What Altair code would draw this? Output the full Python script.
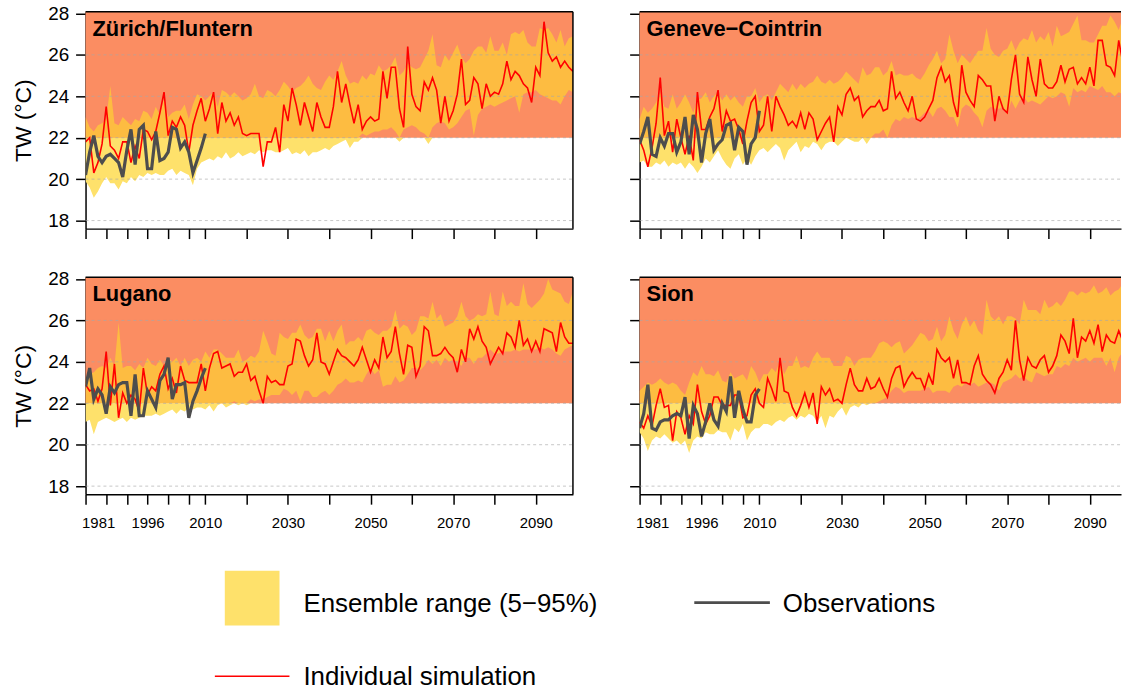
import altair as alt
import pandas as pd

# ---------------- data ----------------
YEARS = list(range(1981, 2100))
OBS_YEARS = list(range(1981, 2011))
X_TICKS = [1981, 1986, 1991, 1996, 2001, 2006, 2010, 2020, 2030, 2040,
           2050, 2060, 2070, 2080, 2090]
X_LABELS = [1981, 1996, 2010, 2030, 2050, 2070, 2090]
Y_TICKS = [18, 20, 22, 24, 26, 28]
GRID_VALUES = [18, 20, 22, 24, 26]
THRESHOLD = 22

STATIONS = ["Zürich/Fluntern", "Geneve\u2212Cointrin", "Lugano", "Sion"]

ZUR_SIM = [21.8, 22.0, 20.3, 20.8, 21.7, 23.5, 21.6, 21.4, 21.0, 21.8,
           21.8, 20.8, 21.6, 21.0, 22.4, 22.3, 21.9, 22.3, 23.2, 24.2,
           22.1, 22.8, 22.5, 23.0, 22.6, 21.3, 22.6, 23.3, 23.9, 22.8,
           23.4, 24.2, 22.2, 23.7, 22.8, 23.2, 22.6, 23.0, 22.2, 22.1,
           22.2, 22.2, 22.2, 20.6, 21.8, 21.8, 22.5, 21.3, 23.6, 22.8,
           24.4, 23.6, 22.6, 23.7, 23.0, 22.3, 23.7, 23.0, 22.5, 22.5,
           23.5, 25.2, 23.7, 24.6, 23.6, 22.7, 23.6, 22.4, 22.8, 23.0,
           22.8, 22.9, 25.2, 23.9, 25.4, 25.4, 23.4, 22.5, 26.4, 24.1,
           23.5, 23.3, 24.7, 24.3, 24.9, 24.3, 22.7, 24.0, 22.8, 23.3,
           24.1, 25.8, 23.6, 23.8, 24.9, 24.6, 23.4, 24.6, 24.0, 24.2,
           24.1, 24.6, 25.7, 24.8, 25.2, 25.0, 24.6, 24.4, 23.7, 25.4,
           25.0, 27.6, 26.1, 25.7, 25.9, 25.4, 25.7, 25.4, 25.2]
ZUR_LO = [19.9, 19.6, 19.1, 19.4, 19.8, 20.1, 19.8, 19.8, 19.5, 19.9,
          19.8, 20.1, 19.9, 20.2, 20.1, 20.3, 20.2, 20.3, 20.2, 20.2,
          20.4, 20.5, 20.2, 20.4, 20.3, 20.2, 19.7, 20.5, 20.8, 20.9,
          21.0, 20.9, 21.1, 21.0, 21.3, 21.0, 21.1, 21.3, 21.1, 21.2,
          21.3, 21.2, 21.4, 21.3, 21.4, 21.4, 21.3, 21.3, 21.4, 21.5,
          21.2, 21.3, 21.2, 21.4, 21.1, 21.3, 21.3, 21.4, 21.5, 21.4,
          21.6, 21.7, 21.8, 21.9, 21.5, 21.8, 21.8, 22.2, 22.1, 22.2,
          22.3, 22.3, 22.4, 22.4, 22.5, 22.3, 21.8, 22.4, 22.5, 22.6,
          22.5, 22.3, 22.2, 21.7, 22.5, 22.7, 22.8, 22.7, 22.4, 22.5,
          22.7, 23.0, 23.3, 23.4, 22.1, 23.1, 23.4, 23.5, 23.6, 23.5,
          23.6, 23.7, 23.8, 23.9, 24.0, 23.2, 24.1, 24.2, 24.2, 24.3,
          24.1, 24.0, 23.9, 23.8, 23.8, 23.6, 24.0, 24.3, 24.2]
ZUR_HI = [23.0, 22.5, 22.3, 22.6, 22.7, 22.9, 24.5, 22.7, 22.6, 23.0,
          22.8, 22.6, 22.9, 22.8, 23.3, 23.2, 22.9, 23.5, 23.1, 23.9,
          23.0, 23.2, 23.3, 23.3, 23.6, 22.9, 23.6, 24.1, 24.0, 23.8,
          24.0, 24.2, 23.5, 24.3, 24.2, 24.0, 24.2, 24.0, 23.8, 23.9,
          24.1, 24.6, 24.0, 23.9, 24.3, 24.2, 24.0, 24.3, 24.7, 24.5,
          24.2, 24.4, 24.5, 24.7, 25.0, 24.6, 24.4, 24.3, 24.7, 25.0,
          24.8, 25.2, 25.7, 25.0, 24.6, 24.7, 24.6, 25.0, 24.8, 25.1,
          25.0, 25.5, 25.2, 25.3, 25.5, 25.9, 25.0, 25.2, 25.6, 25.4,
          25.3, 25.4, 25.8, 26.2, 27.0, 25.5, 25.4, 26.0, 25.7, 26.1,
          26.5, 25.9, 25.6, 25.8, 26.2, 26.4, 26.4, 26.1, 26.9, 26.2,
          26.2, 26.6, 26.0, 27.0, 27.1, 27.0, 27.2, 26.6, 26.4, 26.4,
          27.3, 27.2, 27.3, 27.0, 26.6, 27.2, 26.4, 26.8, 26.9]
ZUR_OBS = [20.2, 21.3, 22.1, 21.1, 20.8, 21.1, 21.2, 21.0, 20.8, 20.1,
           21.4, 22.4, 20.7, 22.4, 22.6, 20.5, 20.5, 22.3, 20.9, 21.0,
           21.3, 22.5, 22.4, 21.5, 21.8, 21.3, 20.3, 20.9, 21.5, 22.2]

GEN_SIM = [21.9, 21.4, 20.6, 21.5, 22.7, 24.9, 22.1, 22.8, 21.3, 22.9,
           22.0, 21.2, 22.1, 20.9, 24.2, 22.4, 22.4, 23.0, 23.4, 24.3,
           22.3, 23.3, 22.8, 22.9, 22.4, 21.7, 22.8, 23.7, 24.0, 22.3,
           22.6, 24.0, 22.3, 24.0, 23.5, 23.1, 22.6, 22.8, 22.5, 23.2,
           22.4, 23.2, 22.9, 21.9, 22.3, 22.7, 23.0, 21.8, 23.5, 23.1,
           24.1, 24.4, 23.8, 24.0, 23.0, 23.3, 23.5, 23.5, 23.8, 23.3,
           23.4, 25.2, 23.9, 24.2, 23.7, 23.3, 24.0, 22.9, 22.8, 23.0,
           23.4, 23.8, 24.9, 25.4, 24.7, 25.0, 23.7, 23.0, 25.5, 24.2,
           23.8, 23.5, 25.0, 24.8, 24.5, 24.5, 22.8, 24.0, 23.4, 23.2,
           24.8, 26.0, 24.1, 23.7, 25.9, 24.8, 24.0, 25.8, 24.6, 24.4,
           24.4, 24.7, 25.5, 24.7, 25.3, 25.4, 24.6, 24.9, 24.6, 25.4,
           24.5, 26.7, 26.7, 25.5, 25.4, 25.0, 26.7, 25.6, 25.3]
GEN_LO = [20.8, 20.9, 20.6, 20.6, 20.8, 20.7, 20.9, 20.6, 20.8, 20.7,
          20.8, 20.5, 20.8, 20.6, 20.3, 20.6, 21.0, 20.8, 21.1, 21.4,
          21.0, 20.7, 20.5, 21.0, 21.2, 20.7, 21.0, 20.7, 21.1, 21.4,
          21.5, 21.3, 21.5, 21.7, 21.5, 20.9, 21.4, 21.6, 21.8, 21.3,
          21.6, 21.5, 21.8, 21.7, 21.4, 21.7, 21.8, 21.8, 21.6, 21.8,
          22.0, 21.9, 21.8, 21.8, 22.0, 21.7, 22.0, 22.2, 22.2,
          22.4, 22.0, 22.6, 22.9, 22.8, 23.0, 22.9, 23.0, 22.9, 23.0,
          23.2, 23.3, 23.0, 23.4, 23.5, 23.3, 23.0, 23.0, 22.5, 23.4,
          23.6, 23.5, 23.2, 23.0, 22.5, 23.3, 23.5, 23.4, 23.4, 23.5,
          23.1, 23.8, 23.4, 23.8, 24.0, 23.7, 23.8, 23.7, 23.6, 23.8,
          24.0, 23.9, 24.0, 24.2, 24.1, 23.5, 24.4, 24.2, 24.3, 24.2,
          24.5, 24.4, 24.3, 24.5, 24.2, 24.2, 24.0, 24.2, 24.1, 24.1]
GEN_HI = [22.9, 23.5, 23.2, 23.4, 23.7, 24.2, 23.5, 23.4, 24.1, 23.4,
          23.7, 24.1, 23.7, 23.2, 23.8, 23.9, 24.2, 23.7, 24.0, 24.2,
          23.8, 24.1, 23.8, 24.0, 23.7, 23.5, 24.0, 24.0, 24.4, 23.7,
          24.0, 24.1, 23.8, 24.2, 24.6, 24.4, 24.2, 24.6, 24.3, 24.6,
          24.4, 24.6, 24.7, 25.0, 24.7, 24.6, 24.8, 24.6, 24.7, 24.9,
          25.2, 25.0, 24.8, 24.6, 25.4, 25.0, 25.1, 25.4, 25.4,
          25.0, 25.2, 25.7, 25.0, 25.1, 25.0, 25.0, 25.1, 24.9, 24.8,
          25.1, 25.5, 25.8, 26.2, 25.6, 25.8, 27.0, 26.2, 25.6, 26.0,
          25.8, 25.6, 25.9, 26.2, 26.2, 27.3, 26.3, 26.0, 25.9, 26.2,
          26.3, 26.7, 26.2, 26.6, 26.8, 26.7, 27.2, 26.6, 26.9, 26.7,
          27.1, 26.4, 27.4, 26.9, 27.0, 27.1, 27.5, 27.9, 26.7, 26.7,
          26.6, 26.6, 27.0, 27.4, 27.4, 27.9, 27.6, 27.2, 27.8, 27.7]
GEN_OBS = [21.7, 22.3, 23.0, 21.2, 21.1, 22.0, 21.6, 22.2, 22.2, 21.3,
           21.8, 23.0, 21.2, 23.1, 22.4, 20.8, 22.2, 22.9, 21.4, 21.7,
           21.9, 22.6, 22.7, 21.4, 22.5, 22.3, 20.7, 21.7, 22.0, 23.3]

LUG_SIM = [22.9, 22.6, 22.7, 22.1, 22.7, 24.5, 21.9, 23.9, 21.3, 22.5,
           22.0, 22.4, 22.2, 21.6, 23.7, 22.4, 22.8, 22.6, 23.4, 23.8,
           22.7, 23.2, 22.5, 23.8, 23.1, 23.0, 23.0, 23.0, 23.9, 22.6,
           23.7, 24.4, 24.5, 23.7, 23.8, 23.9, 23.3, 23.5, 23.5, 23.9,
           23.1, 23.3, 22.6, 22.0, 23.3, 23.0, 23.1,
           22.9, 22.9, 23.8, 23.9, 25.1, 25.0, 24.3, 23.8, 24.1, 25.4,
           24.0, 23.9, 23.4, 24.0, 24.6, 24.3, 24.2, 24.0, 23.8, 24.1,
           24.7, 24.1, 23.5, 24.1, 23.7, 25.2, 24.2, 24.5, 25.7, 24.4,
           23.4, 24.8, 24.7, 23.3, 23.8, 25.7, 25.5, 24.3, 24.3, 24.4,
           24.7, 24.4, 24.2, 23.5, 24.6, 24.0, 25.6, 25.1, 25.7, 25.0,
           24.7, 23.9, 24.3, 24.7, 24.4, 25.4, 25.2, 24.7, 26.0, 24.8,
           25.1, 24.5, 25.0, 24.5, 25.6, 25.5, 25.4, 24.5, 25.9, 25.2,
           24.9, 24.9]
LUG_LO = [21.1, 21.2, 20.5, 21.1, 21.2, 21.3, 21.2, 21.1, 21.2, 21.3,
          21.1, 21.3, 21.2, 21.3, 21.4, 21.4, 21.4, 21.5, 21.4, 21.5,
          21.6, 21.7, 21.5, 21.7, 21.6, 21.8, 21.7, 21.8, 21.8, 21.7,
          21.9, 21.6, 21.9, 22.0, 21.8, 21.9, 22.1, 21.9, 22.0, 21.9,
          22.2, 22.1, 22.2, 22.2, 22.3, 22.4, 22.4,
          22.4, 22.7, 22.6, 22.4, 22.6, 22.1, 22.6, 22.6, 22.3, 22.3,
          22.5, 22.6, 22.4, 22.6, 22.9, 23.0, 23.2, 23.0, 23.0, 23.1,
          23.0, 23.4, 23.7, 23.4, 23.6, 22.8, 22.9, 22.9, 23.3, 23.0,
          23.1, 23.4, 23.7, 23.7, 23.6, 23.8, 24.1, 23.9, 24.1, 23.8,
          24.2, 24.0, 24.1, 24.0, 23.8, 24.2, 24.2, 23.9, 24.2, 24.2,
          24.4, 24.6, 24.4, 24.4, 24.5, 24.5, 24.5, 24.6, 24.5, 24.6,
          24.6, 24.6, 24.6, 24.7, 24.6, 24.7, 24.6, 24.4, 24.3, 24.6,
          24.7, 24.8]
LUG_HI = [23.1, 23.4, 23.5, 23.7, 23.8, 23.7, 24.2, 23.8, 25.9, 23.7,
          23.8, 23.8, 23.6, 23.9, 23.7, 24.2, 23.9, 23.8, 24.1, 23.8,
          24.2, 24.0, 24.2, 23.8, 24.2, 23.8, 24.1, 24.2, 24.0, 24.5,
          24.2, 24.6, 24.6, 24.4, 24.2, 24.2, 24.2, 24.6, 24.0, 24.1,
          24.3, 24.2, 24.5, 25.5, 25.0, 24.4, 24.3,
          25.4, 25.2, 25.1, 25.4, 25.4, 25.8, 25.3, 25.1, 25.2, 25.6,
          25.6, 25.0, 25.5, 25.0, 25.5, 25.8, 24.8, 25.0, 25.0, 25.2,
          25.0, 25.5, 25.6, 25.4, 25.3, 25.5, 25.5, 25.7, 26.5, 25.6,
          25.8, 25.7, 25.3, 25.5, 26.2, 26.2, 26.1, 26.9, 26.1, 26.3,
          25.7, 25.8, 25.9, 26.2, 26.9, 26.2, 26.0, 26.1, 26.3, 26.2,
          26.3, 27.4, 26.3, 26.2, 27.4, 26.7, 26.9, 26.7, 26.7, 27.8,
          26.8, 26.6, 26.8, 27.0, 27.3, 28.0, 27.5, 27.4, 27.3, 26.9,
          26.8, 27.4]
LUG_OBS = [22.8, 23.7, 22.2, 22.7, 22.4, 21.5, 22.8, 22.5, 22.9, 23.0,
           23.0, 21.4, 23.4, 21.4, 21.4, 22.6, 22.2, 21.8, 23.1, 23.4,
           24.2, 22.2, 22.9, 22.9, 23.0, 21.3, 22.1, 22.6, 23.2, 23.7]

SIO_SIM = [21.1, 20.8, 21.4, 20.9, 21.9, 22.7, 21.8, 21.9, 20.2, 21.6,
           21.3, 20.5, 21.4, 21.0, 22.9, 21.6, 21.0, 21.4, 22.3, 22.3,
           21.9, 21.9, 21.9, 22.4, 22.4, 21.3, 21.4, 22.4, 22.7, 22.0,
           21.8, 23.2, 22.7, 22.1, 24.2, 22.6, 22.5, 21.8, 21.4, 21.9,
           22.5, 21.8, 22.5, 21.0, 22.8, 22.4, 22.7, 22.1, 22.2,
           22.0, 22.9, 23.7, 22.9, 22.6, 22.6, 23.2, 22.7, 22.8, 23.2,
           22.7, 22.3, 23.2, 23.7, 23.8, 22.8, 23.2, 23.5, 23.2, 23.2,
           22.7, 23.4, 22.9, 24.6, 24.2, 24.0, 24.2, 23.2, 24.1, 23.0,
           23.0, 22.9, 23.8, 24.3, 23.4, 23.1, 22.9, 22.5, 23.2, 23.5,
           24.1, 23.6, 26.0, 24.1, 23.1, 24.2, 23.8, 23.7, 24.1, 24.3,
           23.5, 23.8, 24.3, 25.3, 25.0, 24.4, 26.1, 24.2, 25.2, 25.0,
           25.5, 24.9, 25.8, 24.5, 25.3, 25.0, 24.9, 25.5, 25.0, 25.2]
SIO_LO = [20.6, 20.3, 19.7, 20.2, 20.4, 20.3, 20.5, 20.3, 20.1, 20.2,
          20.0, 20.2, 19.6, 20.2, 20.4, 20.3, 20.6, 20.5, 20.5, 20.7,
          20.6, 20.6, 20.2, 20.8, 20.6, 21.0, 20.2, 20.6, 20.8, 20.8,
          21.0, 21.0, 20.9, 21.1, 21.2, 21.1, 21.3, 21.4, 21.2, 21.4,
          21.3, 21.5, 21.4, 21.1, 21.4, 20.8, 21.4, 21.3, 21.6, 21.8,
          21.4, 21.8, 21.9, 21.8, 22.0, 21.9, 22.0, 22.0, 22.1,
          22.2, 22.3, 22.6, 22.8, 22.7, 22.5, 22.6, 22.6, 22.6, 22.6,
          22.7, 22.8, 22.5, 22.6, 22.6, 22.6, 22.5, 22.8, 22.9, 22.8,
          23.0, 22.9, 23.0, 22.8, 22.9, 23.0, 23.0, 22.9, 22.6, 23.0,
          23.1, 23.2, 23.4, 23.2, 23.3, 23.1, 23.0, 23.5, 23.4, 23.3,
          23.4, 23.4, 23.8, 23.7, 23.9, 23.8, 24.2, 24.0, 24.1, 24.2,
          24.0, 24.2, 24.2, 24.2, 23.8, 24.2, 23.5, 24.2, 24.5, 24.5]
SIO_HI = [22.6, 22.8, 23.0, 22.9, 23.0, 23.2, 23.0, 22.9, 23.0, 22.9,
          22.6, 22.4, 23.0, 23.5, 23.3, 23.8, 23.4, 23.4, 23.3, 23.6,
          23.1, 23.0, 23.5, 23.2, 23.3, 23.4, 23.1, 23.8, 23.5, 23.0,
          23.4, 23.4, 23.7, 23.5, 24.1, 23.4, 23.8, 23.8, 24.3, 23.7,
          23.8, 23.7, 24.2, 24.5, 24.2, 24.2, 24.2, 23.8, 23.8, 23.8,
          24.3, 24.2, 23.8, 24.1, 24.2, 24.2, 24.2, 24.5, 24.9,
          25.0, 24.9, 24.7, 24.9, 25.0, 24.4, 24.6, 24.8, 25.1, 25.4,
          25.3, 25.0, 25.1, 25.7, 25.0, 25.3, 26.2, 25.5, 25.1, 25.8,
          26.2, 25.7, 26.0, 25.5, 25.3, 27.0, 26.2, 26.0, 26.2, 25.8,
          26.2, 26.2, 26.1, 25.8, 27.0, 26.5, 26.5, 26.5, 26.3, 27.0,
          26.6, 26.7, 26.9, 26.7, 27.0, 27.4, 27.4, 27.2, 27.4, 27.3,
          27.4, 27.7, 27.3, 27.4, 27.6, 27.2, 27.4, 27.5, 27.8, 27.8]
SIO_OBS = [20.8, 21.5, 22.9, 20.8, 20.7, 21.1, 21.2, 21.2, 21.4, 21.5,
           21.4, 22.3, 20.3, 21.9, 21.5, 20.4, 21.1, 22.0, 21.2, 20.9,
           22.0, 21.6, 23.3, 21.3, 22.6, 21.7, 21.1, 21.1, 22.4, 22.7]

LEGEND_LABELS = ["Ensemble range (5\u221295%)", "Observations", "Individual simulation"]

# ---------------- style ----------------
FONT = "Liberation Sans"
ORANGE = "#FB8D62"
GOLD = "#FDBC41"
YELLOW = "#FEE16B"
RED = "#FF0000"
OBS_GREY = "#4D4D4D"
GRID_GREY = "#A8A8A8"

Y_DOMAIN = [17.61, 28.08]
PANEL_H = 218
W_LEFT, W_RIGHT = 490, 484
X_MAX_LEFT, X_MAX_RIGHT = 2099, 2097.55
PAD_LEFT, PAD_TOP = 12, 2
ROW_SPACING = 29
PLOT_LEFT = 83      # page x of the legend block origin (aligned with the panels)
LEG_TOP = 561       # page y of the legend block

ONE = pd.DataFrame({"k": [0]})


def panel(name, sim, lo, hi, obs, left_col, bottom_row):
    width = W_LEFT if left_col else W_RIGHT
    x_max = X_MAX_LEFT if left_col else X_MAX_RIGHT
    xs = alt.Scale(domain=[1981, x_max], nice=False, zero=False)
    ys = alt.Scale(domain=Y_DOMAIN, nice=False, zero=False)
    test = " || ".join(f"datum.value == {v}" for v in X_LABELS)
    xaxis = alt.Axis(values=X_TICKS, format="d", labels=bottom_row,
                     labelExpr=f"({test}) ? datum.label : ''",
                     title=None, grid=False, tickSize=10, tickWidth=1.5,
                     tickColor="black", domainColor="black", domainWidth=1.5,
                     labelFont=FONT, labelFontSize=15, labelColor="black",
                     labelPadding=11, labelFlush=True, labelFlushOffset=4,
                     labelOverlap=False)
    if left_col:
        yaxis = alt.Axis(values=Y_TICKS, grid=False, tickSize=10, tickWidth=1.5,
                         tickColor="black", domainColor="black", domainWidth=1.5,
                         labelFont=FONT, labelFontSize=19, labelColor="black",
                         labelPadding=7, title="TW (°C)", titleFont=FONT,
                         titleFontSize=23, titleFontWeight="normal",
                         titleColor="black", titlePadding=12)
    else:
        yaxis = alt.Axis(values=Y_TICKS, grid=False, tickSize=10, tickWidth=1.5,
                         tickColor="black", domainColor="black", domainWidth=1.5,
                         labels=False, title=None)

    df = pd.DataFrame({"year": YEARS, "sim": sim, "lo": lo, "hi": hi})
    dobs = pd.DataFrame({"year": OBS_YEARS, "obs": obs})
    x_enc = alt.X("year:Q", scale=xs, axis=xaxis)

    bg = alt.Chart(ONE).mark_rect(color=ORANGE).encode(
        x=alt.value(0), x2=alt.value(width),
        y=alt.Y(datum=THRESHOLD, type="quantitative", scale=ys, axis=yaxis),
        y2=alt.datum(Y_DOMAIN[1]))
    band_low = alt.Chart(df).transform_calculate(
        a=f"min(datum.lo, {THRESHOLD})", b=f"min(datum.hi, {THRESHOLD})"
    ).mark_area(color=YELLOW, clip=True).encode(
        x=x_enc, y=alt.Y("a:Q", scale=ys, axis=yaxis), y2="b:Q")
    band_high = alt.Chart(df).transform_calculate(
        a=f"max(datum.lo, {THRESHOLD})", b=f"max(datum.hi, {THRESHOLD})"
    ).mark_area(color=GOLD, clip=True).encode(
        x=x_enc, y=alt.Y("a:Q", scale=ys, axis=yaxis), y2="b:Q")
    grid = alt.Chart(pd.DataFrame({"g": GRID_VALUES})).mark_rule(
        color=GRID_GREY, strokeDash=[3, 3], strokeWidth=0.8, opacity=0.8
    ).encode(y=alt.Y("g:Q", scale=ys, axis=yaxis),
             x=alt.value(0), x2=alt.value(width))
    sim_line = alt.Chart(df).mark_line(color=RED, strokeWidth=1.6, clip=True).encode(
        x=x_enc, y=alt.Y("sim:Q", scale=ys, axis=yaxis))
    obs_line = alt.Chart(dobs).mark_line(color=OBS_GREY, strokeWidth=3.2, clip=True).encode(
        x=alt.X("year:Q", scale=xs, axis=xaxis),
        y=alt.Y("obs:Q", scale=ys, axis=yaxis))
    top = alt.Chart(ONE).mark_rule(color="black", strokeWidth=1.5).encode(
        x=alt.value(0), x2=alt.value(width), y=alt.value(0))
    layers = [bg, band_low, band_high, grid, sim_line, obs_line, top]
    if left_col:
        right = alt.Chart(ONE).mark_rule(color="black", strokeWidth=1.5).encode(
            x=alt.value(width), y=alt.value(0), y2=alt.value(PANEL_H))
        layers.append(right)
    title = alt.Chart(ONE).mark_text(
        text=name, align="left", baseline="alphabetic", font=FONT,
        fontSize=22, fontWeight="bold", color="black"
    ).encode(x=alt.value(7), y=alt.value(24))
    layers.append(title)
    return alt.layer(*layers).properties(width=width, height=PANEL_H)


p1 = panel(STATIONS[0], ZUR_SIM, ZUR_LO, ZUR_HI, ZUR_OBS, True, False)
p2 = panel(STATIONS[1], GEN_SIM, GEN_LO, GEN_HI, GEN_OBS, False, False)
p3 = panel(STATIONS[2], LUG_SIM, LUG_LO, LUG_HI, LUG_OBS, True, True)
p4 = panel(STATIONS[3], SIO_SIM, SIO_LO, SIO_HI, SIO_OBS, False, True)

row1 = alt.hconcat(p1, p2, spacing=53)
row2 = alt.hconcat(p3, p4, spacing=53)


# legend (drawn as its own small chart, aligned with the panels' plot area)
def lx(v):
    return v - PLOT_LEFT


def ly(v):
    return v - LEG_TOP


leg_rect = alt.Chart(ONE).mark_rect(color=YELLOW).encode(
    x=alt.value(lx(223)), x2=alt.value(lx(278)),
    y=alt.value(ly(571)), y2=alt.value(ly(626)))
leg_obs = alt.Chart(ONE).mark_rule(color=OBS_GREY, strokeWidth=3).encode(
    x=alt.value(lx(695)), x2=alt.value(lx(771)), y=alt.value(ly(603)))
leg_sim = alt.Chart(ONE).mark_rule(color=RED, strokeWidth=1.5).encode(
    x=alt.value(lx(213)), x2=alt.value(lx(288)), y=alt.value(ly(677)))


def leg_text(label, xv, yv):
    return alt.Chart(ONE).mark_text(
        text=label, align="left", baseline="alphabetic", font=FONT,
        fontSize=26, color="black").encode(x=alt.value(lx(xv)), y=alt.value(ly(yv)))


legend = alt.layer(
    leg_rect, leg_obs, leg_sim,
    leg_text(LEGEND_LABELS[0], 302, 612),
    leg_text(LEGEND_LABELS[1], 784, 612),
    leg_text(LEGEND_LABELS[2], 302, 686),
).properties(width=1000, height=125)

chart = alt.vconcat(row1, row2, legend, spacing=ROW_SPACING).properties(
    padding={"left": PAD_LEFT, "top": PAD_TOP, "right": 0, "bottom": 0}
).configure_view(stroke="transparent")

chart.save("out.html", embed_options={"renderer": "svg", "actions": False})
